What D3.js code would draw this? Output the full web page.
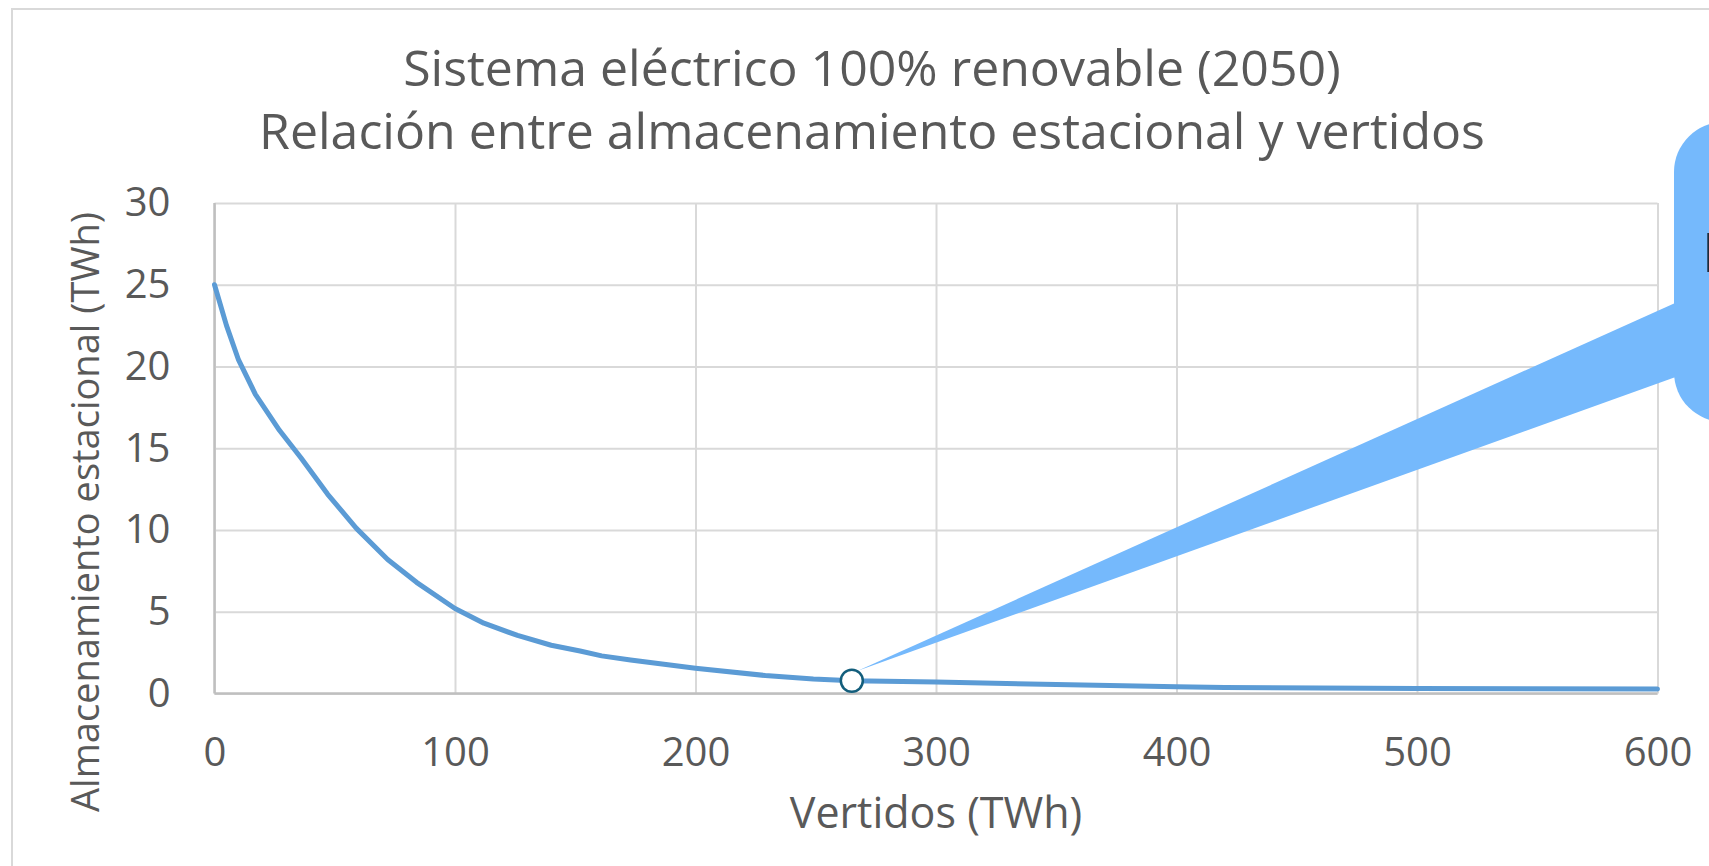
<!DOCTYPE html>
<html>
<head>
<meta charset="utf-8">
<script src="https://cdn.jsdelivr.net/npm/d3@7"></script>
<style>
  body { margin: 0; background: #fff; }
  svg { display: block; font-family: "Open Sans", sans-serif; }
</style>
</head>
<body>
<div id="chart"></div>
<script>
// Vertidos (TWh) vs almacenamiento estacional (TWh)
const vertidos = [0, 5, 10, 17, 27, 36, 47, 59, 72, 84, 100, 112, 126, 140, 152, 161, 173, 200, 229, 249, 265, 300, 350, 400, 420, 500, 600];
const almacenamiento = [25, 22.5, 20.4, 18.3, 16.1, 14.4, 12.2, 10.1, 8.2, 6.8, 5.2, 4.3, 3.55, 2.95, 2.6, 2.3, 2.05, 1.55, 1.1, 0.88, 0.78, 0.7, 0.55, 0.42, 0.36, 0.3, 0.27];
const puntoX = [265];
const puntoY = [0.78];
const xTicks = [0, 100, 200, 300, 400, 500, 600];
const yTicks = [0, 5, 10, 15, 20, 25, 30];
const TITLE_LINES = ['Sistema eléctrico 100% renovable (2050)', 'Relación entre almacenamiento estacional y vertidos'];
const X_LABEL = 'Vertidos (TWh)';
const Y_LABEL = 'Almacenamiento estacional (TWh)';
const CALLOUT_TEXT = 'Punto óptimo';

const W = 1709, H = 866;
const M = { left: 214.5, right: 1657.5, top: 203, bottom: 693.5 };
const TEXT = '#595959';
const FONT = '"Open Sans", sans-serif';

const svg = d3.select('#chart').append('svg')
  .attr('width', W)
  .attr('height', H);

svg.append('rect')
  .attr('width', W).attr('height', H)
  .attr('fill', '#fff');

// chart area border
svg.append('rect')
  .attr('x', 12).attr('y', 9)
  .attr('width', W + 20).attr('height', H + 20)
  .attr('fill', 'none')
  .attr('stroke', '#d9d9d9')
  .attr('stroke-width', 2);

const x = d3.scaleLinear().domain([0, 600]).range([M.left, M.right]);
const y = d3.scaleLinear().domain([0, 30]).range([M.bottom, M.top]);

const data = vertidos.map((v, i) => ({ x: v, y: almacenamiento[i] }));

// grid + axes
const xAxis = svg.append('g')
  .attr('transform', `translate(0, ${M.bottom})`)
  .call(d3.axisBottom(x).tickValues(xTicks).tickSizeInner(-(M.bottom - M.top)).tickSizeOuter(0).tickPadding(44));

const yAxis = svg.append('g')
  .attr('transform', `translate(${M.left}, 0)`)
  .call(d3.axisLeft(y).tickValues(yTicks).tickSizeInner(-(M.right - M.left)).tickSizeOuter(0).tickPadding(44));

[xAxis, yAxis].forEach(g => {
  g.attr('font-family', FONT).attr('font-size', 40);
  g.select('.domain').remove();
  g.selectAll('.tick line')
    .attr('stroke', '#d9d9d9')
    .attr('stroke-width', 2);
  g.selectAll('.tick text')
    .attr('fill', TEXT);
});

// axis lines
svg.append('line')
  .attr('x1', x(0)).attr('x2', x(600))
  .attr('y1', y(0)).attr('y2', y(0))
  .attr('stroke', '#bfbfbf').attr('stroke-width', 2.5);
svg.append('line')
  .attr('x1', x(0)).attr('x2', x(0))
  .attr('y1', y(0)).attr('y2', y(30))
  .attr('stroke', '#bfbfbf').attr('stroke-width', 2.5);

// series
const line = d3.line()
  .x(d => x(d.x))
  .y(d => y(d.y))
  .curve(d3.curveLinear);

svg.append('path')
  .datum(data)
  .attr('d', line)
  .attr('fill', 'none')
  .attr('stroke', '#5b9bd5')
  .attr('stroke-width', 5)
  .attr('stroke-linejoin', 'round')
  .attr('stroke-linecap', 'round');

// callout
const px = x(puntoX[0]), py = y(puntoY[0]);
const BOX = { x: 1674, y: 122, w: 240, h: 300, r: 50 };
svg.append('path')
  .attr('d', `M${px + 6},${py - 10} L${BOX.x + 10},${299} L${BOX.x + 10},${374} Z`)
  .attr('fill', '#75b9fc');
svg.append('rect')
  .attr('x', BOX.x).attr('y', BOX.y)
  .attr('width', BOX.w).attr('height', BOX.h)
  .attr('rx', BOX.r).attr('ry', BOX.r)
  .attr('fill', '#75b9fc');
svg.append('text')
  .attr('x', 1702).attr('y', 272)
  .attr('fill', '#1f2a38')
  .style('font-size', '54px')
  .text(CALLOUT_TEXT);

// marker
svg.selectAll('circle.punto')
  .data(puntoX.map((v, i) => ({ x: v, y: puntoY[i] })))
  .enter().append('circle')
  .attr('class', 'punto')
  .attr('cx', d => x(d.x))
  .attr('cy', d => y(d.y))
  .attr('r', 11)
  .attr('fill', '#fff')
  .attr('stroke', '#135e7c')
  .attr('stroke-width', 2.5);

// titles
svg.append('text')
  .attr('x', 872).attr('y', 86)
  .attr('text-anchor', 'middle')
  .attr('fill', TEXT)
  .style('font-size', '50px')
  .text(TITLE_LINES[0]);
svg.append('text')
  .attr('x', 872).attr('y', 149)
  .attr('text-anchor', 'middle')
  .attr('fill', TEXT)
  .style('font-size', '50px')
  .text(TITLE_LINES[1]);

svg.append('text')
  .attr('x', (M.left + M.right) / 2).attr('y', 828)
  .attr('text-anchor', 'middle')
  .attr('fill', TEXT)
  .style('font-size', '43px')
  .text(X_LABEL);

svg.append('text')
  .attr('transform', `translate(99, ${(215 + 809) / 2}) rotate(-90)`)
  .attr('text-anchor', 'middle')
  .attr('fill', TEXT)
  .style('font-size', '38px')
  .text(Y_LABEL);
</script>
</body>
</html>
